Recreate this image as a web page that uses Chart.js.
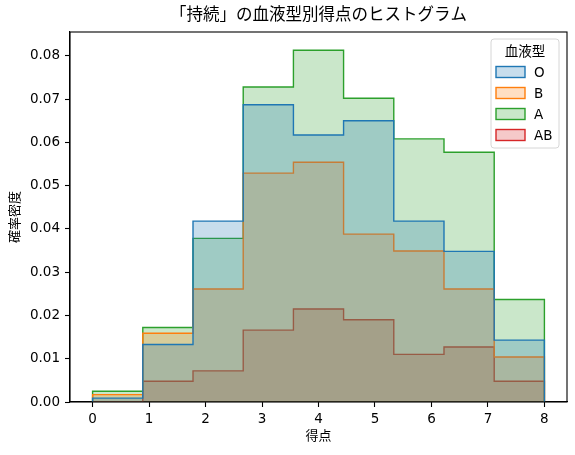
<!DOCTYPE html>
<html>
<head>
<meta charset="utf-8">
<script src="https://cdn.jsdelivr.net/npm/chart.js@4"></script>
<style>
  body { margin: 0; background: #fff; }
</style>
</head>
<body>
<canvas id="chart" width="575" height="455"></canvas>
<script>
const TITLE = "「持続」の血液型別得点のヒストグラム";
const X_LABEL = "得点";
const Y_LABEL = "確率密度";
const LEGEND_TITLE = "血液型";

// 9 bins between 0 and 8
const binEdges = [0, 0.889, 1.778, 2.667, 3.556, 4.444, 5.333, 6.222, 7.111, 8];
const bloodTypes = ["O", "B", "A", "AB"];
const densityO = [0.0009, 0.0133, 0.0418, 0.0687, 0.0617, 0.0650, 0.0418, 0.0348, 0.0143];
const densityB = [0.0017, 0.0159, 0.0261, 0.0529, 0.0554, 0.0388, 0.0349, 0.0261, 0.0104];
const densityA = [0.0025, 0.0172, 0.0378, 0.0728, 0.0813, 0.0702, 0.0608, 0.0577, 0.0237];
const densityAB = [0, 0.0048, 0.0072, 0.0166, 0.0215, 0.0190, 0.0110, 0.0127, 0.0048];
const xTicks = [0, 1, 2, 3, 4, 5, 6, 7, 8];
const yTicks = [0, 0.01, 0.02, 0.03, 0.04, 0.05, 0.06, 0.07, 0.08];

const colors = ["31,119,180", "255,127,14", "44,160,44", "214,39,40"];
const FONT = "'DejaVu Sans', 'Noto Sans CJK JP', sans-serif";

// step outline: up from 0 at the left edge, one point per bin, down to 0 at the right edge
function stepPoints(values) {
  const pts = [{ x: binEdges[0], y: 0 }];
  values.forEach((v, i) => pts.push({ x: binEdges[i], y: v }));
  pts.push({ x: binEdges[binEdges.length - 1], y: 0 });
  return pts;
}

const series = [densityO, densityB, densityA, densityAB];
const datasets = series.map((vals, i) => ({
  label: bloodTypes[i],
  data: stepPoints(vals),
  stepped: "before",
  borderColor: `rgb(${colors[i]})`,
  backgroundColor: `rgba(${colors[i]},0.25)`,
  borderWidth: 1.4,
  fill: "origin",
  pointRadius: 0,
  tension: 0,
}));

const extras = {
  id: "extras",
  afterDraw(chart) {
    const { ctx, chartArea: a } = chart;
    ctx.save();
    // frame
    ctx.strokeStyle = "#000";
    ctx.lineWidth = 1.1;
    ctx.strokeRect(a.left, a.top, a.right - a.left, a.bottom - a.top);

    ctx.fillStyle = "#000";
    ctx.textAlign = "center";
    ctx.textBaseline = "middle";
    const cx = (a.left + a.right) / 2;
    ctx.font = `16.5px ${FONT}`;
    ctx.fillText(TITLE, cx, 16);
    ctx.font = `13px ${FONT}`;
    ctx.fillText(X_LABEL, cx, 437);
    ctx.save();
    ctx.translate(16, (a.top + a.bottom) / 2);
    ctx.rotate(-Math.PI / 2);
    ctx.fillText(Y_LABEL, 0, 0);
    ctx.restore();

    // legend
    const lx = 491, ly = 39, lw = 68, lh = 109;
    ctx.beginPath();
    ctx.roundRect(lx, ly, lw, lh, 3);
    ctx.fillStyle = "rgba(255,255,255,0.8)";
    ctx.fill();
    ctx.strokeStyle = "#d6d6d6";
    ctx.lineWidth = 1;
    ctx.stroke();
    ctx.fillStyle = "#000";
    ctx.font = `13.5px ${FONT}`;
    ctx.fillText(LEGEND_TITLE, lx + lw / 2, 52);
    bloodTypes.forEach((name, i) => {
      const y = 72 + i * 21;
      ctx.fillStyle = `rgba(${colors[i]},0.25)`;
      ctx.fillRect(496, y - 5.5, 29, 11);
      ctx.strokeStyle = `rgb(${colors[i]})`;
      ctx.lineWidth = 1.4;
      ctx.strokeRect(496, y - 5.5, 29, 11);
      ctx.fillStyle = "#000";
      ctx.textAlign = "left";
      ctx.font = `13.5px ${FONT}`;
      ctx.fillText(name, 534, y + 1);
    });
    ctx.restore();
  },
};

new Chart(document.getElementById("chart"), {
  type: "line",
  data: { datasets },
  plugins: [extras],
  options: {
    responsive: false,
    animation: false,
    layout: { padding: { top: 32, right: 8, left: 0, bottom: 0 } },
    plugins: {
      legend: { display: false },
      tooltip: { enabled: false },
      title: { display: false },
    },
    scales: {
      x: {
        type: "linear",
        min: -0.4,
        max: 8.4,
        afterFit: (s) => { s.height = 53; },
        afterBuildTicks: (s) => { s.ticks = xTicks.map((v) => ({ value: v })); },
        grid: { drawOnChartArea: false, drawTicks: true, tickLength: 5, color: "#000", tickWidth: 1.1 },
        border: { display: true, color: "#000", width: 1.1 },
        ticks: {
          color: "#000",
          padding: 4,
          maxRotation: 0,
          font: { family: FONT, size: 13.5 },
          callback: (v) => String(v),
        },
      },
      y: {
        type: "linear",
        min: 0,
        max: 0.0855,
        afterFit: (s) => { s.width = 70; },
        afterBuildTicks: (s) => { s.ticks = yTicks.map((v) => ({ value: v })); },
        grid: { drawOnChartArea: false, drawTicks: true, tickLength: 5, color: "#000", tickWidth: 1.1 },
        border: { display: true, color: "#000", width: 1.1 },
        ticks: {
          color: "#000",
          padding: 5,
          font: { family: FONT, size: 13.5 },
          callback: (v) => v.toFixed(2),
        },
      },
    },
  },
});
</script>
</body>
</html>
